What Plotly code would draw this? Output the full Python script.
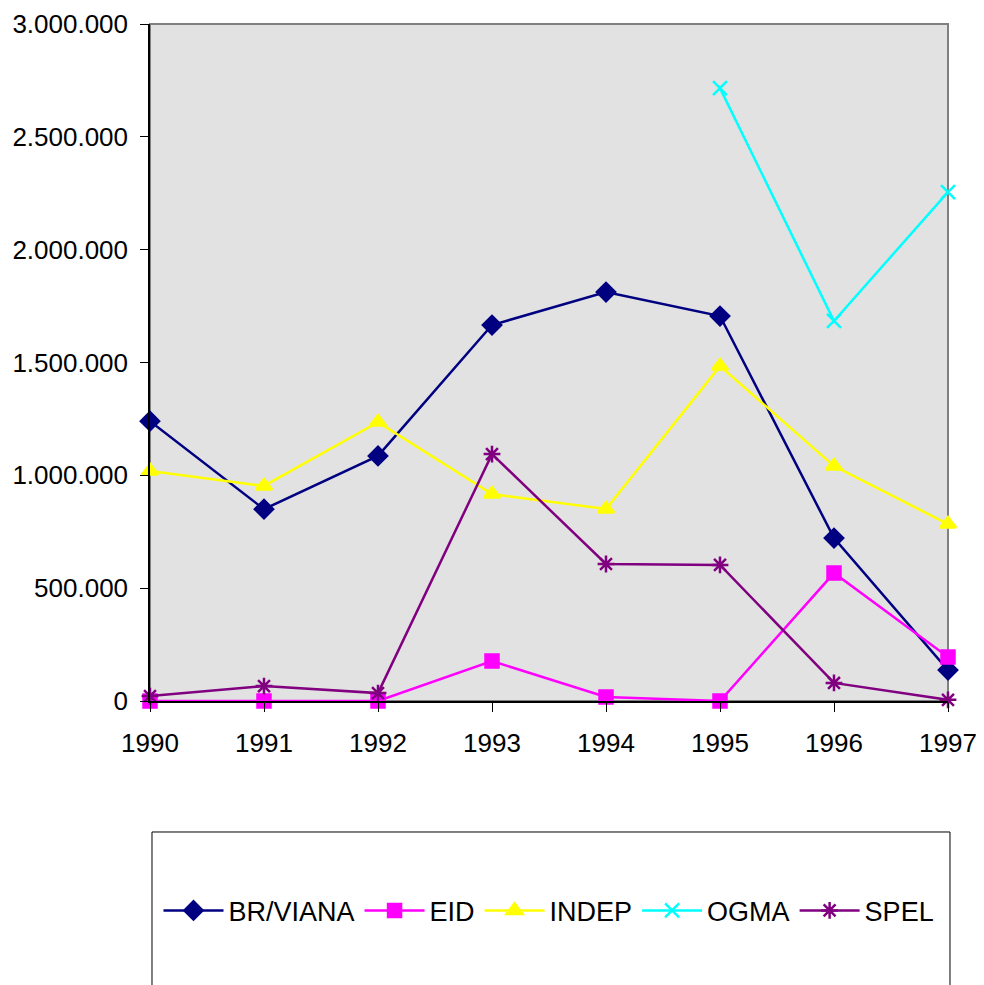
import plotly.graph_objects as go

years = [1990, 1991, 1992, 1993, 1994, 1995, 1996, 1997]
br_viana = [1240000, 850000, 1086000, 1666000, 1812000, 1706000, 722000, 137000]
eid = [0, 0, 0, 177000, 18000, 0, 567000, 195000]
indep = [1019000, 953000, 1236000, 917000, 851000, 1484000, 1041000, 784000]
ogma_years = [1995, 1996, 1997]
ogma = [2716000, 1684000, 2255000]
spel = [22000, 66000, 35000, 1094000, 607000, 603000, 80000, 5000]

series = [
    ("BR/VIANA", years, br_viana, "#000080", "diamond", 14),
    ("EID", years, eid, "#ff00ff", "square", 13),
    ("INDEP", years, indep, "#ffff00", "triangle-up", 14),
    ("OGMA", ogma_years, ogma, "#00ffff", "x-thin-open", 14),
    ("SPEL", years, spel, "#800080", "asterisk-open", 14),
]

fig = go.Figure()
for name, xs, ys, color, sym, size in series:
    fig.add_trace(go.Scatter(
        x=xs, y=ys, name=name, mode="lines+markers",
        line=dict(color=color, width=2.5),
        marker=dict(symbol=sym, size=size, color=color,
                    line=dict(color=color, width=2.5)),
        cliponaxis=False,
    ))

font = dict(family="Liberation Sans, Arial, sans-serif", size=26, color="black")

# page body has an 8px margin; the figure is sized/offset to compensate
fig.update_layout(
    width=976, height=977,
    margin=dict(l=142, r=36, t=16, b=284, autoexpand=False),
    paper_bgcolor="white",
    plot_bgcolor="#e2e2e2",
    separators=",.",
    font=font,
    showlegend=True,
    legend=dict(orientation="h", x=0.5, xanchor="center", y=-0.31, yanchor="middle",
                bgcolor="rgba(0,0,0,0)", font=dict(family=font["family"], size=27, color="black"),
                itemwidth=60, tracegroupgap=0),
    xaxis=dict(range=[1990, 1997], tickmode="array", tickvals=years,
               ticktext=[str(y) for y in years], automargin=False,
               showgrid=False, zeroline=False, showline=True, linecolor="black", linewidth=1.5,
               ticks="outside", ticklen=9, tickcolor="black", ticklabelstandoff=9),
    yaxis=dict(range=[0, 3000000], tickvals=[0, 500000, 1000000, 1500000, 2000000, 2500000, 3000000],
               tickformat=",d", showgrid=False, zeroline=False, showline=True, automargin=False,
               linecolor="black", linewidth=1.5, ticks="outside", ticklen=8,
               tickcolor="black", ticklabelstandoff=7),
    shapes=[
        dict(type="rect", xref="paper", yref="paper", x0=0, x1=1, y0=0, y1=1,
             line=dict(color="#808080", width=2), fillcolor="rgba(0,0,0,0)", layer="below"),
        dict(type="rect", xref="paper", yref="paper", x0=0.0025, x1=1.0025, y0=-0.45, y1=-0.1935,
             line=dict(color="black", width=1), fillcolor="rgba(0,0,0,0)"),
    ],
)

fig.write_html("out.html")
